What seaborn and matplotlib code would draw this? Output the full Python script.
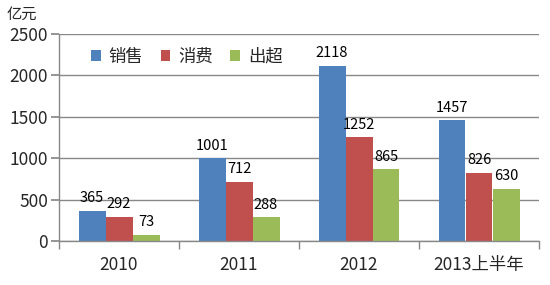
import matplotlib
matplotlib.use("Agg")
import matplotlib.pyplot as plt
import seaborn as sns
import pandas as pd
from matplotlib.patches import Patch

categories = ["2010", "2011", "2012", "2013上半年"]
series_names = ["销售", "消费", "出超"]
sales = [365, 1001, 2118, 1457]
consumption = [292, 712, 1252, 826]
surplus = [73, 288, 865, 630]
yticks = [0, 500, 1000, 1500, 2000, 2500]
unit_label = "亿元"
colors = ["#4F81BD", "#C0504D", "#9BBB59"]

sns.set_theme(style="white")
plt.rcParams['font.family'] = ['Noto Sans CJK SC', 'DejaVu Sans']

rows = []
for name, vals in zip(series_names, [sales, consumption, surplus]):
    for c, v in zip(categories, vals):
        rows.append({"cat": c, "series": name, "value": v})
df = pd.DataFrame(rows)

fig = plt.figure(figsize=(5.5, 2.85), dpi=100)
ax = fig.add_axes([59/550, 1-241/285, 480/550, 207/285])

sns.barplot(data=df, x="cat", y="value", hue="series", order=categories,
            hue_order=series_names, palette=colors, width=0.675, gap=0,
            saturation=1, ax=ax, legend=False, linewidth=0, edgecolor="none")

for cont in ax.containers:
    ax.bar_label(cont, padding=4, fontsize=10.5, color="#000000")

ax.set_ylim(0, 2500)
ax.set_xlim(-0.5, 3.5)
ax.set_yticks(yticks)
ax.set_yticklabels([str(t) for t in yticks], fontsize=12.5)
ax.yaxis.grid(True, color="#888888", linewidth=1)
ax.set_axisbelow(True)
ax.set_xlabel("")
ax.set_ylabel("")

ax.set_xticks(range(len(categories)))
ax.set_xticklabels(categories, fontsize=12.5)
ax.tick_params(axis="x", length=0, pad=11)
ax.set_xticks([-0.5, 0.5, 1.5, 2.5, 3.5], minor=True)
ax.tick_params(axis="x", which="minor", length=6, color="#888888", direction="out", bottom=True)
ax.tick_params(axis="y", length=6, color="#888888", direction="out", left=True, pad=2)

for s in ["top", "right"]:
    ax.spines[s].set_visible(False)
for s in ["left", "bottom"]:
    ax.spines[s].set_color("#888888")
    ax.spines[s].set_linewidth(1)

handles = [Patch(facecolor=c, edgecolor="none") for c in colors]
ax.legend(handles, series_names, loc="upper left", bbox_to_anchor=(0.035, 1.01),
          ncol=3, frameon=False, fontsize=12.5, handlelength=0.55, handleheight=0.55,
          handletextpad=0.45, columnspacing=1.0)

fig.text(7/550, 1-14/285, unit_label, fontsize=11, va="center", ha="left")

fig.savefig("out.png", dpi=100)
